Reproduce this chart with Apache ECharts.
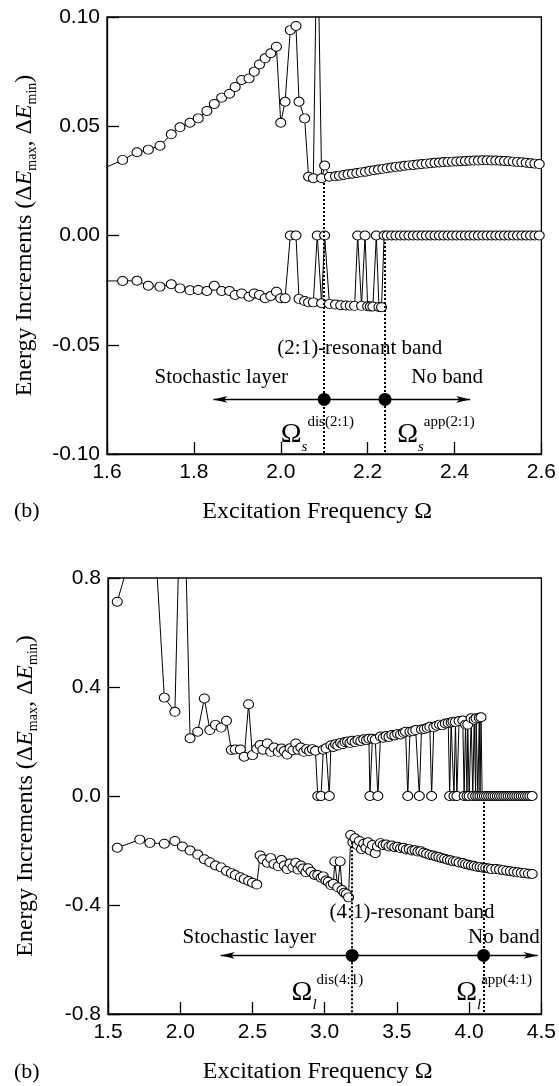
<!DOCTYPE html>
<html>
<head>
<meta charset="utf-8">
<style>
  html, body { margin: 0; padding: 0; background: #fff; }
  #chart { width: 559px; height: 1086px; }
</style>
<script src="https://cdn.jsdelivr.net/npm/echarts@6.0.0/dist/echarts.min.js"></script>
</head>
<body>
<div id="chart"></div>
<script>
// 刻度标签
const topXTicks = ['1.6', '1.8', '2.0', '2.2', '2.4', '2.6']
const topYTicks = ['-0.10', '-0.05', '0.00', '0.05', '0.10']
const botXTicks = ['1.5', '2.0', '2.5', '3.0', '3.5', '4.0', '4.5']
const botYTicks = ['-0.8', '-0.4', '0.0', '0.4', '0.8']

// 上图 (2:1): ΔEmax
const topMaxFreq = [1.590, 1.636, 1.669, 1.695, 1.722, 1.748, 1.768, 1.791, 1.810, 1.830, 1.847, 1.864, 1.882, 1.895, 1.910,
  1.927, 1.939, 1.951, 1.964, 1.977, 1.990, 2.000, 2.010, 2.022, 2.035, 2.042, 2.055, 2.064, 2.075, 2.084, 2.094, 2.101,
  2.112, 2.126, 2.135, 2.145, 2.155, 2.165, 2.175, 2.185, 2.195, 2.205, 2.215, 2.225, 2.235, 2.245, 2.255, 2.265, 2.275,
  2.285, 2.295, 2.305, 2.315, 2.325, 2.335, 2.345, 2.355, 2.365, 2.375, 2.385, 2.395, 2.405, 2.415, 2.425, 2.435, 2.445,
  2.455, 2.465, 2.475, 2.485, 2.495, 2.505, 2.515, 2.525, 2.535, 2.545, 2.555, 2.565, 2.575, 2.585, 2.595]
const topMaxVal = [0.0305, 0.0346, 0.0381, 0.0393, 0.0411, 0.0463, 0.0495, 0.0516, 0.0536, 0.0570, 0.0602, 0.0631, 0.0649,
  0.0680, 0.0712, 0.0719, 0.0750, 0.0783, 0.0811, 0.0834, 0.0864, 0.0516, 0.0612, 0.0940, 0.0959, 0.0612, 0.0536, 0.0269,
  0.0262, 0.1500, 0.0262, 0.0320, 0.0269, 0.0271, 0.0274, 0.0277, 0.0280, 0.0283, 0.0286, 0.0289, 0.0292, 0.0296, 0.0299,
  0.0302, 0.0305, 0.0308, 0.0311, 0.0314, 0.0316, 0.0319, 0.0321, 0.0323, 0.0325, 0.0327, 0.0329, 0.0331, 0.0333, 0.0334,
  0.0336, 0.0337, 0.0338, 0.0339, 0.0340, 0.0341, 0.0342, 0.0343, 0.0343, 0.0344, 0.0344, 0.0343, 0.0343, 0.0342, 0.0341,
  0.0340, 0.0338, 0.0337, 0.0335, 0.0333, 0.0331, 0.0329, 0.0327]

// 上图 (2:1): ΔEmin
const topMinFreq = [1.590, 1.636, 1.669, 1.695, 1.722, 1.748, 1.768, 1.791, 1.810, 1.830, 1.847, 1.864, 1.882, 1.895, 1.910,
  1.927, 1.939, 1.951, 1.964, 1.977, 1.990, 2.000, 2.010, 2.022, 2.035, 2.042, 2.055, 2.064, 2.075, 2.084, 2.094, 2.101,
  2.112, 2.126, 2.138, 2.150, 2.160, 2.170, 2.177, 2.186, 2.194, 2.200, 2.206, 2.212, 2.220, 2.226, 2.232, 2.238, 2.245,
  2.255, 2.265, 2.275, 2.285, 2.295, 2.305, 2.315, 2.325, 2.335, 2.345, 2.355, 2.365, 2.375, 2.385, 2.395, 2.405, 2.415,
  2.425, 2.435, 2.445, 2.455, 2.465, 2.475, 2.485, 2.495, 2.505, 2.515, 2.525, 2.535, 2.545, 2.555, 2.565, 2.575, 2.585, 2.595]
const topMinVal = [-0.0208, -0.0208, -0.0207, -0.0230, -0.0234, -0.0223, -0.0242, -0.0251, -0.0249, -0.0254, -0.0230,
  -0.0254, -0.0254, -0.0272, -0.0265, -0.0280, -0.0265, -0.0272, -0.0287, -0.0277, -0.0257, -0.0287, -0.0287, 0, 0,
  -0.0290, -0.0300, -0.0306, -0.0306, 0, -0.0310, 0, -0.0313, -0.0316, -0.0319, -0.0320, -0.0321, -0.0322, 0, -0.0322, 0,
  -0.0324, -0.0325, -0.0325, 0, -0.0327, -0.0328, 0, 0, 0, 0, 0, 0, 0, 0, 0, 0, 0, 0, 0, 0, 0, 0, 0, 0, 0, 0, 0, 0, 0, 0,
  0, 0, 0, 0, 0, 0, 0, 0, 0, 0, 0, 0, 0]

// 下图 (4:1): ΔEmax
const botMaxFreq = [1.564, 1.72, 1.79, 1.89, 1.963, 2.015, 2.068, 2.121, 2.167, 2.205, 2.244, 2.283, 2.32, 2.354, 2.381,
  2.416, 2.443, 2.473, 2.50, 2.53, 2.553, 2.572, 2.603, 2.626, 2.649, 2.678, 2.701, 2.72, 2.74, 2.76, 2.78, 2.80, 2.815,
  2.835, 2.855, 2.875, 2.895, 2.915, 2.936, 2.952, 2.975, 2.99, 3.009, 3.032, 3.043, 3.06, 3.075, 3.09, 3.11, 3.125, 3.14,
  3.158, 3.175, 3.19, 3.21, 3.23, 3.25, 3.27, 3.29, 3.306, 3.313, 3.33, 3.35, 3.368, 3.386, 3.405, 3.425, 3.445, 3.465,
  3.485, 3.505, 3.525, 3.545, 3.56, 3.575, 3.59, 3.61, 3.63, 3.655, 3.67, 3.69, 3.71, 3.728, 3.74, 3.755, 3.775, 3.795,
  3.815, 3.835, 3.855, 3.865, 3.875, 3.888, 3.895, 3.905, 3.915, 3.93, 3.956, 3.965, 3.975, 3.985, 3.99, 4.00, 4.014,
  4.025, 4.035, 4.045, 4.048, 4.06, 4.07, 4.075, 4.082, 4.09, 4.105, 4.12, 4.135, 4.15, 4.165, 4.18, 4.195, 4.21, 4.225,
  4.24, 4.255, 4.27, 4.285, 4.30, 4.315, 4.33, 4.345, 4.36, 4.375, 4.39, 4.405, 4.42, 4.436]
const botMaxVal = [0.713, 1.00, 1.26, 0.361, 0.309, 1.42, 0.212, 0.236, 0.358, 0.242, 0.261, 0.251, 0.276, 0.169, 0.171,
  0.171, 0.144, 0.337, 0.150, 0.173, 0.187, 0.170, 0.193, 0.162, 0.178, 0.162, 0.174, 0.165, 0.152, 0.175, 0.168, 0.193,
  0.170, 0.178, 0.162, 0.172, 0.165, 0.172, 0.166, 0, 0, 0.170, 0.175, 0, 0.186, 0.180, 0.190, 0.185, 0.195, 0.190, 0.198,
  0.200, 0.195, 0.203, 0.198, 0.205, 0.202, 0.208, 0.205, 0.210, 0, 0.210, 0.207, 0, 0.218, 0.214, 0.220, 0.217, 0.224,
  0.222, 0.228, 0.226, 0.232, 0.236, 0, 0.236, 0.238, 0.242, 0, 0.244, 0.246, 0.250, 0.254, 0, 0.252, 0.258, 0.262, 0.260,
  0.266, 0.268, 0, 0.270, 0.273, 0, 0.272, 0, 0.275, 0.277, 0, 0.262, 0, 0.262, 0, 0.285, 0, 0.280, 0, 0.285, 0, 0.287,
  0, 0.289, 0, 0, 0, 0, 0, 0, 0, 0, 0, 0, 0, 0, 0, 0, 0, 0, 0, 0, 0, 0, 0, 0, 0, 0]

// 下图 (4:1): ΔEmin
const botMinFreq = [1.564, 1.72, 1.79, 1.89, 1.963, 2.015, 2.068, 2.121, 2.167, 2.205, 2.244, 2.283, 2.32, 2.354, 2.381,
  2.416, 2.443, 2.473, 2.50, 2.53, 2.553, 2.572, 2.603, 2.626, 2.649, 2.678, 2.701, 2.72, 2.74, 2.76, 2.78, 2.80, 2.815,
  2.835, 2.849, 2.87, 2.885, 2.905, 2.93, 2.952, 2.975, 2.99, 3.009, 3.025, 3.043, 3.06, 3.07, 3.09, 3.107, 3.12, 3.135,
  3.15, 3.165, 3.18, 3.195, 3.21, 3.225, 3.24, 3.255, 3.27, 3.285, 3.30, 3.315, 3.33, 3.35, 3.365, 3.386, 3.405, 3.425,
  3.445, 3.465, 3.485, 3.505, 3.525, 3.545, 3.565, 3.585, 3.605, 3.625, 3.645, 3.665, 3.685, 3.705, 3.728, 3.75, 3.77,
  3.79, 3.81, 3.83, 3.85, 3.87, 3.89, 3.91, 3.93, 3.956, 3.975, 3.995, 4.015, 4.035, 4.055, 4.075, 4.095, 4.115, 4.135,
  4.155, 4.185, 4.21, 4.235, 4.26, 4.285, 4.31, 4.335, 4.36, 4.385, 4.41, 4.436]
const botMinVal = [-0.190, -0.160, -0.172, -0.175, -0.165, -0.185, -0.200, -0.215, -0.232, -0.243, -0.255, -0.262, -0.275,
  -0.283, -0.290, -0.298, -0.305, -0.312, -0.318, -0.325, -0.218, -0.232, -0.245, -0.228, -0.250, -0.258, -0.235, -0.255,
  -0.268, -0.248, -0.262, -0.245, -0.270, -0.255, -0.266, -0.280, -0.265, -0.278, -0.290, -0.290, -0.300, -0.295, -0.310,
  -0.315, -0.327, -0.322, -0.240, -0.335, -0.240, -0.345, -0.355, -0.360, -0.372, -0.143, -0.170, -0.155, -0.180, -0.165,
  -0.195, -0.175, -0.190, -0.170, -0.200, -0.180, -0.210, -0.185, -0.173, -0.180, -0.178, -0.185, -0.182, -0.188, -0.186,
  -0.192, -0.190, -0.196, -0.195, -0.200, -0.199, -0.204, -0.203, -0.208, -0.212, -0.216, -0.218, -0.222, -0.224, -0.228,
  -0.230, -0.234, -0.236, -0.240, -0.240, -0.244, -0.246, -0.250, -0.252, -0.255, -0.257, -0.260, -0.261, -0.263, -0.264,
  -0.266, -0.268, -0.268, -0.270, -0.272, -0.274, -0.276, -0.278, -0.280, -0.282, -0.283, -0.285, -0.286]

// 标注: 共振带边界点, 箭头, 虚线
const topDotFreq = [2.10, 2.24]
const topArrowFreq = [1.845, 2.436]
const topArrowVal = -0.075
const topGuideFreq = [2.10, 2.24]
const topGuideFrom = [0.024, -0.003]
const botDotFreq = [3.19, 4.10]
const botArrowFreq = [2.28, 4.474]
const botArrowVal = -0.585
const botGuideFreq = [3.19, 4.10]
const botGuideFrom = [-0.17, -0.022]

// 文字标注
const topNoteText = ['(2:1)-resonant band', 'Stochastic layer', 'No band', '{o|Ω}{b|s}{p|dis(2:1)}', '{o|Ω}{b|s}{p|app(2:1)}']
const topNoteFreq = [2.182, 1.863, 2.383, 2.0, 2.268]
const topNoteVal = [-0.0515, -0.0648, -0.0648, -0.0913, -0.0913]
const botNoteText = ['(4:1)-resonant band', 'Stochastic layer', 'No band', '{o|Ω}{b|l}{p|dis(4:1)}', '{o|Ω}{b|l}{p|app(4:1)}']
const botNoteFreq = [3.605, 2.478, 4.24, 2.771, 3.91]
const botNoteVal = [-0.429, -0.518, -0.518, -0.723, -0.723]

const serif = 'Liberation Serif'
const sans = 'Liberation Sans'
const pairs = (xs, ys) => xs.map((x, i) => [x, ys[i]])

const tickFmt = (ticks) => (v) => {
  const t = ticks.find((s) => Math.abs(parseFloat(s) - v) < 1e-6)
  return t === undefined ? '' : t
}

const axisBase = (ticks, grid) => ({
  type: 'value',
  gridIndex: grid,
  min: parseFloat(ticks[0]),
  max: parseFloat(ticks[ticks.length - 1]),
  interval: +(parseFloat(ticks[1]) - parseFloat(ticks[0])).toFixed(4),
  axisLine: { show: true, onZero: false, lineStyle: { color: '#000', width: 1.3 } },
  axisTick: { show: true, inside: true, length: 12, lineStyle: { color: '#000', width: 1.3 } },
  splitLine: { show: false },
  axisLabel: { color: '#000', fontFamily: sans, fontSize: 21, formatter: tickFmt(ticks) }
})

const xAxisOf = (ticks, grid) => {
  const ax = axisBase(ticks, grid)
  ax.axisLabel.margin = 8
  ax.name = 'Excitation Frequency Ω'
  ax.nameLocation = 'middle'
  ax.nameGap = 46
  ax.nameTextStyle = { fontFamily: serif, fontSize: 24, color: '#000', padding: [0, 14, 0, 0] }
  return ax
}

const yAxisOf = (ticks, grid) => {
  const ax = axisBase(ticks, grid)
  ax.axisLabel.margin = 7
  ax.name = '{n|Energy Increments (Δ}{i|E}{s|max}{n|, Δ}{i|E}{s|min}{n|)}'
  ax.nameLocation = 'middle'
  ax.nameRotate = 90
  ax.nameGap = 68
  ax.nameTextStyle = {
    fontFamily: serif, fontSize: 24, color: '#000',
    rich: {
      n: { fontFamily: serif, fontSize: 24, lineHeight: 28, color: '#000' },
      i: { fontFamily: serif, fontSize: 24, lineHeight: 28, fontStyle: 'italic', color: '#000' },
      s: { fontFamily: serif, fontSize: 14, lineHeight: 14, verticalAlign: 'bottom', color: '#000' }
    }
  }
  return ax
}

const curve = (xs, ys, ax, size) => ({
  type: 'line',
  xAxisIndex: ax,
  yAxisIndex: ax,
  data: pairs(xs, ys),
  symbol: 'circle',
  symbolSize: size,
  showAllSymbol: true,
  clip: true,
  silent: true,
  z: 2,
  lineStyle: { color: '#000', width: 1 },
  itemStyle: { color: '#fff', borderColor: '#000', borderWidth: 1, opacity: 1 }
})

const guides = (ax, freqs, froms, bottom, arrowFreq, arrowVal) => ({
  type: 'line',
  xAxisIndex: ax,
  yAxisIndex: ax,
  data: [],
  silent: true,
  z: 4,
  markLine: {
    silent: true,
    animation: false,
    symbol: 'none',
    label: { show: false },
    data: [
      ...freqs.map((f, i) => [
        { coord: [f, froms[i]], lineStyle: { color: '#000', width: 2, type: [2, 2], opacity: 1 } },
        { coord: [f, bottom] }
      ]),
      [
        { coord: [arrowFreq[0], arrowVal], symbol: 'arrow', symbolSize: [5, 14], lineStyle: { color: '#000', width: 1.3, type: 'solid', opacity: 1 } },
        { coord: [arrowFreq[1], arrowVal], symbol: 'arrow', symbolSize: [5, 14] }
      ]
    ]
  }
})

const dots = (ax, freqs, val) => ({
  type: 'scatter',
  xAxisIndex: ax,
  yAxisIndex: ax,
  data: freqs.map((f) => [f, val]),
  symbolSize: 13,
  silent: true,
  z: 6,
  itemStyle: { color: '#000', opacity: 1 }
})

const notes = (ax, texts, freqs, vals) => ({
  type: 'scatter',
  xAxisIndex: ax,
  yAxisIndex: ax,
  symbolSize: 0.1,
  silent: true,
  z: 7,
  itemStyle: { color: 'rgba(0,0,0,0)', opacity: 1 },
  label: {
    show: true,
    position: 'inside',
    color: '#000',
    opacity: 1,
    fontFamily: serif,
    fontSize: 21,
    rich: {
      o: { fontFamily: serif, fontSize: 28, lineHeight: 40, verticalAlign: 'middle', color: '#000' },
      b: { fontFamily: serif, fontSize: 15, fontStyle: 'italic', lineHeight: 18, verticalAlign: 'bottom', color: '#000' },
      p: { fontFamily: serif, fontSize: 15, lineHeight: 22, verticalAlign: 'top', color: '#000' }
    }
  },
  data: texts.map((t, i) => ({
    value: [freqs[i], vals[i]],
    label: { formatter: t, align: t.startsWith('{o|') ? 'left' : 'center' }
  }))
})

const chart = echarts.init(document.getElementById('chart'))

const option = {
  animation: false,
  backgroundColor: '#fff',
  grid: [
    { left: 107, top: 17, width: 440, height: 437, show: true, borderColor: '#000', borderWidth: 1.3 },
    { left: 108, top: 578, width: 439, height: 436, show: true, borderColor: '#000', borderWidth: 1.3 }
  ],
  xAxis: [xAxisOf(topXTicks, 0), xAxisOf(botXTicks, 1)],
  yAxis: [yAxisOf(topYTicks, 0), yAxisOf(botYTicks, 1)],
  graphic: [
    { type: 'text', left: 14, top: 500, style: { text: '(b)', font: '22px "Liberation Serif"', fill: '#000' } },
    { type: 'text', left: 14, top: 1061, style: { text: '(b)', font: '22px "Liberation Serif"', fill: '#000' } }
  ],
  series: [
    curve(topMaxFreq, topMaxVal, 0, [10, 9]),
    curve(topMinFreq, topMinVal, 0, [10, 9]),
    guides(0, topGuideFreq, topGuideFrom, -0.10, topArrowFreq, topArrowVal),
    dots(0, topDotFreq, topArrowVal),
    notes(0, topNoteText, topNoteFreq, topNoteVal),
    curve(botMaxFreq, botMaxVal, 1, [10, 9]),
    curve(botMinFreq, botMinVal, 1, [10, 9]),
    guides(1, botGuideFreq, botGuideFrom, -0.8, botArrowFreq, botArrowVal),
    dots(1, botDotFreq, botArrowVal),
    notes(1, botNoteText, botNoteFreq, botNoteVal)
  ]
}

chart.setOption(option)
</script>
</body>
</html>
